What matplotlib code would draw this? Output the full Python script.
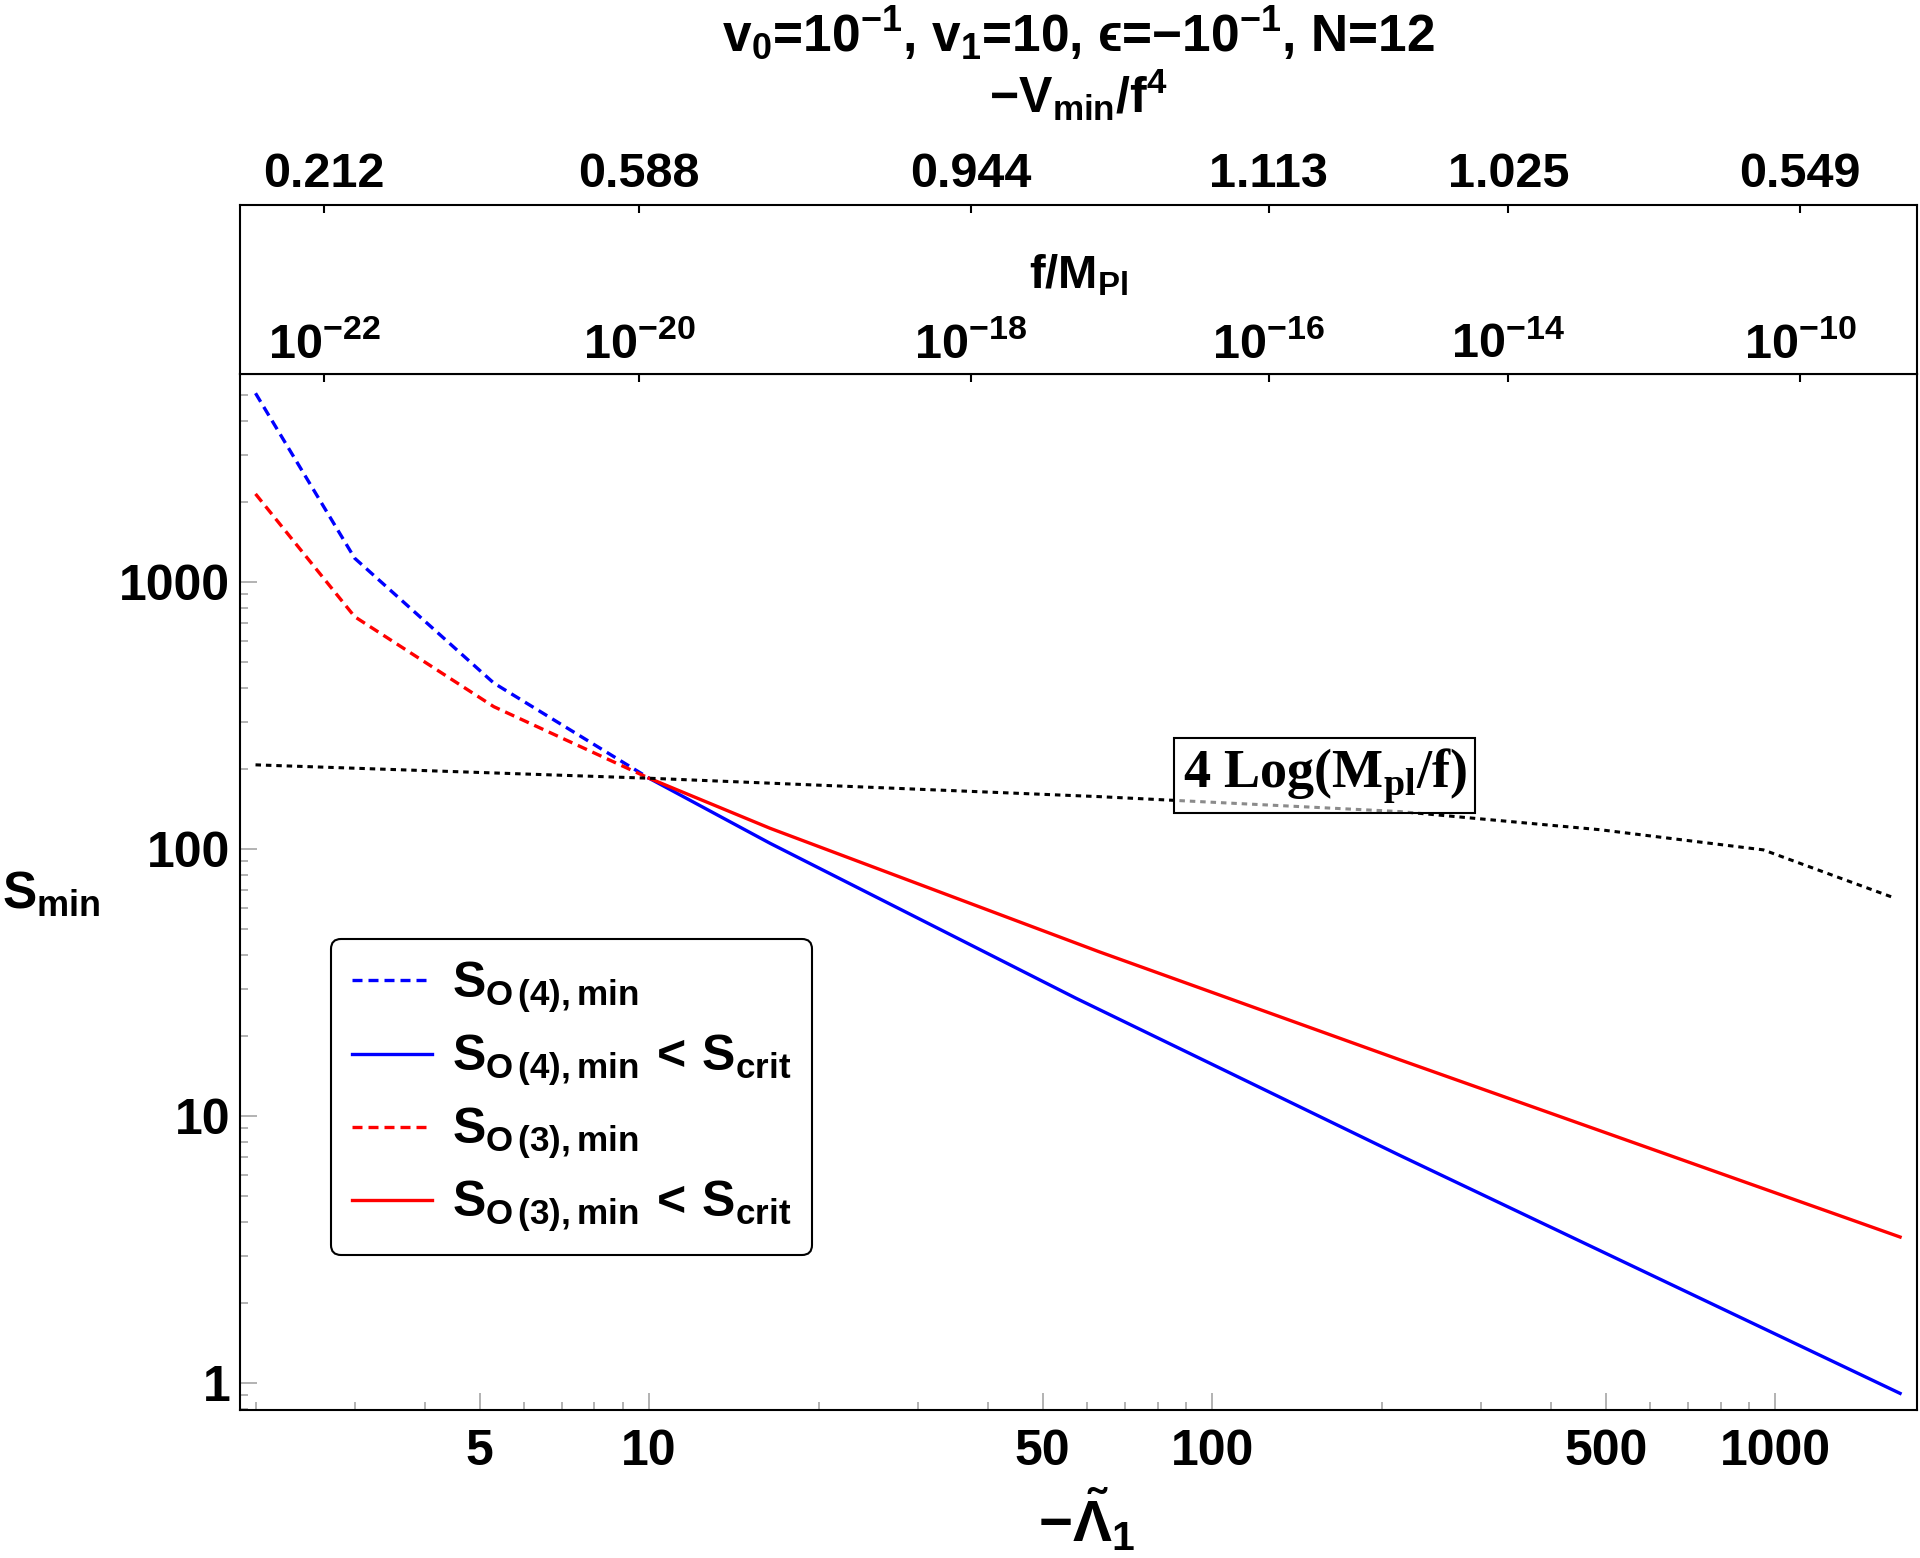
import matplotlib
matplotlib.use('Agg')
import matplotlib.pyplot as plt
import matplotlib.transforms as mtransforms
from matplotlib.ticker import LogLocator, NullLocator, NullFormatter
import numpy as np

# S_min against -Lambda_1
lam_o4_dash = [2.0, 3.0, 5.3, 10.0]
s_o4_dash = [5090, 1227, 418, 184]
lam_o3_dash = [2.0, 3.0, 5.3, 10.0]
s_o3_dash = [2136, 741, 341, 184]
lam_o4 = [10.0, 16.4, 57.3, 216, 1667]
s_o4 = [184, 105, 27.6, 7.1, 0.914]
lam_o3 = [10.0, 16.4, 63.0, 216, 1667]
s_o3 = [184, 119.5, 41.2, 16.2, 3.52]
lam_log = [2.0, 10.0, 63.0, 216, 489, 953, 1633]
s_log = [206.5, 184, 157, 138, 118, 99.2, 65.4]

# upper scales (f/M_Pl and -V_min/f^4) sit at these -Lambda_1 values
lam_top = [2.65, 9.61, 37.3, 126, 336, 1107]
f_labels = [r'$10^{-22}$', r'$10^{-20}$', r'$10^{-18}$',
            r'$10^{-16}$', r'$10^{-14}$', r'$10^{-10}$']
v_labels = ['0.212', '0.588', '0.944', '1.113', '1.025', '0.549']

x_major = [5, 10, 50, 100, 500, 1000]
y_major = [1, 10, 100, 1000]

plt.rcParams.update({
    'font.family': 'Liberation Sans',
    'font.weight': 'bold',
    'mathtext.fontset': 'custom',
    'mathtext.rm': 'Liberation Sans:bold',
    'mathtext.it': 'Liberation Sans:bold',
    'mathtext.bf': 'Liberation Sans:bold',
    'mathtext.sf': 'Liberation Sans:bold',
    'mathtext.fallback': 'stixsans',
})

fig = plt.figure(figsize=(19.2, 15.58), dpi=100)
ax = fig.add_axes([0.125, 0.095, 0.8734, 0.665])
band = fig.add_axes([0.125, 0.7599, 0.8734, 0.1085])

dash = (0, (3, 1.8))
ax.plot(lam_o4_dash, s_o4_dash, color='blue', lw=2.4, ls=dash,
        label=r'$S_{O\,(4),min}$')
ax.plot(lam_o4, s_o4, color='blue', lw=2.4,
        label=r'$S_{O\,(4),min}\,<\,S_{crit}$')
ax.plot(lam_o3_dash, s_o3_dash, color='red', lw=2.4, ls=dash,
        label=r'$S_{O\,(3),min}$')
ax.plot(lam_o3, s_o3, color='red', lw=2.4,
        label=r'$S_{O\,(3),min}\,<\,S_{crit}$')
ax.plot(lam_log, s_log, color='black', lw=2.2, ls=(0, (1.8, 1.6)))

ax.set_xscale('log')
ax.set_yscale('log')
ax.set_xlim(1.877, 1786)
ax.set_ylim(0.792, 6012)

# ticks of the main frame
ax.set_xticks(x_major, [str(v) for v in x_major])
ax.set_yticks(y_major, [str(v) for v in y_major])
ax.xaxis.set_minor_locator(LogLocator(subs=np.arange(2, 10) * 1.0, numticks=20))
ax.yaxis.set_minor_locator(LogLocator(subs=np.arange(2, 10) * 1.0, numticks=20))
ax.xaxis.set_minor_formatter(NullFormatter())
ax.yaxis.set_minor_formatter(NullFormatter())
ax.tick_params(which='both', direction='in', color='#a6a6a6', width=1.2,
               labelsize=36, labelcolor='black')
ax.tick_params(which='major', length=12)
ax.tick_params(which='minor', length=6)
ax.tick_params(axis='x', pad=14)
ax.tick_params(axis='y', pad=7)
for sp in ax.spines.values():
    sp.set_linewidth(1.5)

# black ticks on the top edge of the main frame
tw = ax.twiny()
tw.set_xscale('log')
tw.set_xlim(ax.get_xlim())
tw.set_xticks(lam_top, [''] * len(lam_top))
tw.xaxis.set_minor_locator(NullLocator())
tw.tick_params(axis='x', direction='in', length=6, width=1.5, color='black')
for sp in tw.spines.values():
    sp.set_visible(False)

ax.set_ylabel(r'$S_{min}$', rotation=0, fontsize=37, ha='center', va='center')
ax.yaxis.set_label_coords(-0.113, 0.497)
ax.set_xlabel(r'$-\tilde{\Lambda}_{1}$', fontsize=42, va='center')
ax.xaxis.set_label_coords(0.505, -0.107)

leg = ax.legend(loc='upper left', bbox_to_anchor=(0.0543, 0.4546),
                borderaxespad=0, fontsize=36, handlelength=1.6,
                handletextpad=0.4, labelspacing=0.36, borderpad=0.42,
                fancybox=True, edgecolor='black', framealpha=1)
leg.get_frame().set_linewidth(1.5)

ax.text(158.4, 188.5, r'4 Log(M$_{\mathregular{pl}}$/f)',
        family='Liberation Serif', fontweight='bold', fontsize=39,
        ha='center', va='center', zorder=5,
        bbox=dict(boxstyle='square,pad=0.15', facecolor=(1, 1, 1, 0.55),
                  edgecolor='black', linewidth=1.5))

# band above the plot with the f/M_Pl scale
band.set_xscale('log')
band.set_xlim(ax.get_xlim())
band.set_ylim(0, 1)
band.set_yticks([])
band.xaxis.tick_top()
band.set_xticks(lam_top, v_labels)
band.xaxis.set_minor_locator(NullLocator())
band.tick_params(axis='x', direction='in', length=6, width=1.5,
                 color='black', labelsize=35, pad=6)
for sp in band.spines.values():
    sp.set_linewidth(1.5)
tr = mtransforms.blended_transform_factory(band.transData, band.transAxes)
for x, lab in zip(lam_top, f_labels):
    band.text(x, 0.095, lab, transform=tr, ha='center', va='baseline',
              fontsize=35)
band.text(0.5, 0.509, r'f/M$_{Pl}$', transform=band.transAxes,
          ha='center', va='baseline', fontsize=34)

fig.text(0.5617, 1 - 113 / 1558, '\u2212V$_{min}$/f$^{4}$',
         ha='center', va='baseline', fontsize=36)
fig.text(0.5617, 1 - 52 / 1558,
         r'v$_0$=10$^{-1}$, v$_1$=10, ' + '$\u03f5$=\u2212' + r'10$^{-1}$, N=12',
         ha='center', va='baseline', fontsize=37)

fig.savefig('out.png', dpi=100)
